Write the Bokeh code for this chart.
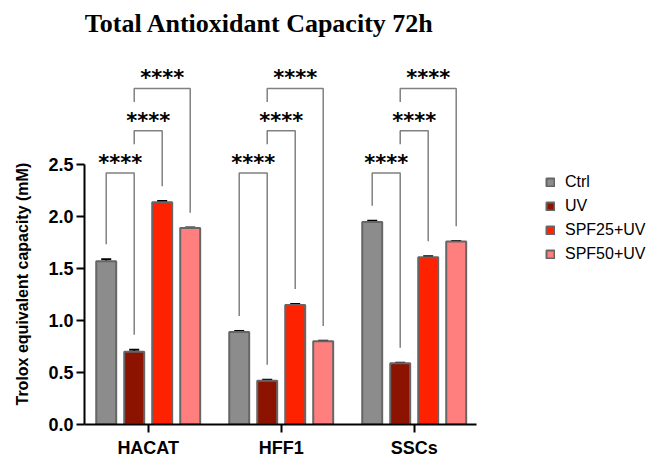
from bokeh.plotting import figure
from bokeh.models import (ColumnDataSource, FixedTicker, Whisker, TeeHead, Legend,
                          LegendItem, Label, PrintfTickFormatter, Range1d, Title)
from bokeh.embed import file_html
from bokeh.resources import INLINE
from bokeh.core.properties import value

# ---------------- data ----------------
cell_lines = ["HACAT", "HFF1", "SSCs"]
treatments = ["Ctrl", "UV", "SPF25+UV", "SPF50+UV"]
ctrl = [1.57, 0.89, 1.95]
uv = [0.70, 0.42, 0.59]
spf25 = [2.14, 1.15, 1.61]
spf50 = [1.89, 0.80, 1.76]
ctrl_err = [0.02, 0.01, 0.01]
uv_err = [0.02, 0.01, 0.005]
spf25_err = [0.01, 0.01, 0.01]
spf50_err = [0.005, 0.005, 0.005]
y_ticks = [0.0, 0.5, 1.0, 1.5, 2.0, 2.5]
comparisons = [("Ctrl", "UV"), ("UV", "SPF25+UV"), ("UV", "SPF50+UV")]
significance = "****"
title_text = "Total Antioxidant Capacity 72h"
y_label = "Trolox equivalent capacity (mM)"

# ---------------- style / layout ----------------
colors = ["#8c8c8c", "#8b1300", "#ff2200", "#ff7f7f"]
values = [ctrl, uv, spf25, spf50]
errors = [ctrl_err, uv_err, spf25_err, spf50_err]
pitch = 0.2105
bar_w = 0.15
offsets = {t: (j - 1.5) * pitch for j, t in enumerate(treatments)}

W, H = 652, 460
left_b = 84
frame_bottom = 426
bottom_b = H - frame_bottom
x0 = -0.479
x1 = x0 + (W - left_b) / 133.0
y_end = frame_bottom / 104.4

p = figure(width=W, height=H, x_range=Range1d(x0, x1), y_range=Range1d(0, y_end),
           output_backend="svg", toolbar_location=None, title=None,
           min_border_left=left_b, min_border_right=0, min_border_top=0,
           min_border_bottom=bottom_b)
p.outline_line_color = None
p.xgrid.visible = False
p.ygrid.visible = False
p.background_fill_color = "white"
p.border_fill_color = "white"

# axes
for ax in (p.xaxis[0], p.yaxis[0]):
    ax.axis_line_width = 2
    ax.axis_line_color = "black"
    ax.major_tick_line_width = 2
    ax.major_tick_line_color = "black"
    ax.major_tick_in = 0
    ax.major_tick_out = 8
    ax.minor_tick_line_color = None
    ax.major_label_text_font = "Liberation Sans"
    ax.major_label_text_font_style = "bold"
    ax.major_label_text_color = "black"

p.xaxis.ticker = FixedTicker(ticks=list(range(len(cell_lines))))
p.xaxis.major_label_overrides = {i: c for i, c in enumerate(cell_lines)}
p.xaxis.bounds = (x0, 2.468)
p.xaxis.major_label_text_font_size = "18px"
p.xaxis.major_label_standoff = 5

p.yaxis.ticker = FixedTicker(ticks=y_ticks)
p.yaxis.formatter = PrintfTickFormatter(format="%.1f")
p.yaxis.bounds = (y_ticks[0], y_ticks[-1])
p.yaxis.major_label_text_font_size = "18px"
p.yaxis.major_label_standoff = 3

# y axis title on the left side panel
p.add_layout(Title(text=y_label, align="left", offset=19, vertical_align="top",
                   standoff=25, text_font="Liberation Sans",
                   text_font_style="bold", text_font_size="16px", text_color="black"),
             "left")

# bars and error bars
renderers = []
tops = {}
for j, t in enumerate(treatments):
    xs = [i + offsets[t] for i in range(len(cell_lines))]
    ups = [v + e for v, e in zip(values[j], errors[j])]
    tops[t] = ups
    src = ColumnDataSource(dict(x=xs, top=values[j], upper=ups))
    r = p.vbar(x="x", top="top", width=bar_w, source=src, fill_color=colors[j],
               line_color="#666666", line_width=2)
    renderers.append(r)
    wh = Whisker(base="x", lower="top", upper="upper", source=src,
                 upper_head=TeeHead(size=10, line_width=2, line_color="black"),
                 lower_head=None, line_color="black", line_width=2)
    p.add_layout(wh)

# significance brackets
base_level = 2.42
step = 0.407
gap = 0.144
clear = 0.277
bx, by, sx, sy = [], [], [], []
for i in range(len(cell_lines)):
    spans = []
    for k, (a, b) in enumerate(comparisons):
        lvl = base_level + k * step
        xa = i + offsets[a]
        xb = i + offsets[b]
        def leg_bottom(x, t):
            bot = tops[t][i] + gap
            for (sa, sb, sl) in spans:
                if sa - 1e-6 <= x <= sb + 1e-6:
                    bot = max(bot, sl + clear)
            return bot
        bx.append([xa, xa, xb, xb])
        by.append([leg_bottom(xa, a), lvl, lvl, leg_bottom(xb, b)])
        spans.append((xa, xb, lvl))
        sx.append((xa + xb) / 2)
        sy.append(lvl)

p.multi_line(xs=bx, ys=by, line_color="#808080", line_width=1.5)
p.text(x=sx, y=sy, text=[significance] * len(sx), text_align="center",
       text_baseline="alphabetic", y_offset=-10, text_font=value("DejaVu Sans"),
       text_font_style="bold", text_font_size="21px", text_color="black")

# title
p.add_layout(Label(x=175, y=frame_bottom - 24.5, x_units="screen", y_units="screen",
                   text=title_text, text_font="Liberation Serif", text_font_style="bold",
                   text_font_size="26px", text_align="center", text_baseline="alphabetic",
                   text_color="black"))

# legend
legend = Legend(items=[LegendItem(label=t, renderers=[r]) for t, r in zip(treatments, renderers)],
                location=(461, 160), glyph_width=10, glyph_height=10, label_height=20,
                spacing=4, padding=0, margin=0, label_standoff=10,
                border_line_color=None, background_fill_alpha=0,
                label_text_font="Liberation Sans", label_text_font_size="16px",
                label_text_color="black")
p.add_layout(legend)

open("out.html", "w").write(file_html(p, INLINE))
